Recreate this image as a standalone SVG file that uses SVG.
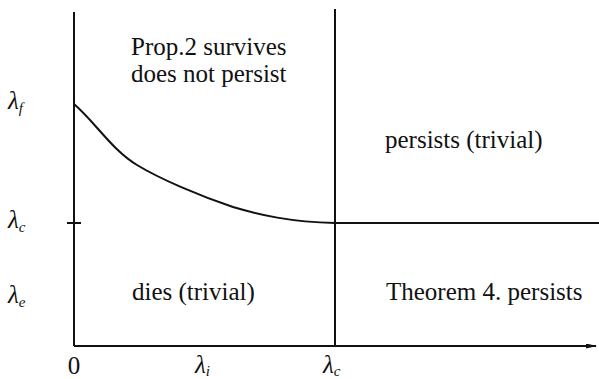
<svg xmlns="http://www.w3.org/2000/svg" width="599" height="379" viewBox="0 0 599 379">
<defs>
<marker id="arr" markerWidth="11" markerHeight="5" refX="10" refY="2.5" orient="auto" markerUnits="userSpaceOnUse">
<path d="M0,0 L11,2.5 L0,5 Z" fill="#111"/>
</marker>
</defs>
<rect width="599" height="379" fill="#fff"/>
<g id="connectors" stroke="#111" stroke-width="2" fill="none">
<line x1="74" y1="12" x2="74" y2="346"/>
<line x1="74" y1="346" x2="596" y2="346" marker-end="url(#arr)"/>
<line x1="335" y1="9" x2="335" y2="346"/>
<line x1="335" y1="223" x2="599" y2="223"/>
<line x1="67" y1="223" x2="81" y2="223"/>
<path d="M74,104 C95,122 112,150 137,165 C160,179 200,196 233,207 C260,215 290,222 335,223"/>
</g>
<g font-family="Liberation Serif" font-size="25" fill="#111">
<g id="region-top">
<text x="131" y="55">Prop.2 survives</text>
<text x="131" y="82">does not persist</text>
</g>
<g id="region-right-top"><text x="385" y="148">persists (trivial)</text></g>
<g id="region-right-bottom"><text x="386" y="300">Theorem 4. persists</text></g>
<g id="region-bottom"><text x="132" y="300">dies (trivial)</text></g>
<g id="labels" font-style="italic">
<text x="8" y="109">λ<tspan font-size="15" dy="4">f</tspan></text>
<text x="8" y="228">λ<tspan font-size="15" dy="4">c</tspan></text>
<text x="8" y="303">λ<tspan font-size="15" dy="4">e</tspan></text>
<text x="74" y="374" text-anchor="middle" font-style="normal">0</text>
<text x="195" y="373">λ<tspan font-size="15" dy="3">i</tspan></text>
<text x="323" y="373">λ<tspan font-size="15" dy="3">c</tspan></text>
</g>
</g>
</svg>
